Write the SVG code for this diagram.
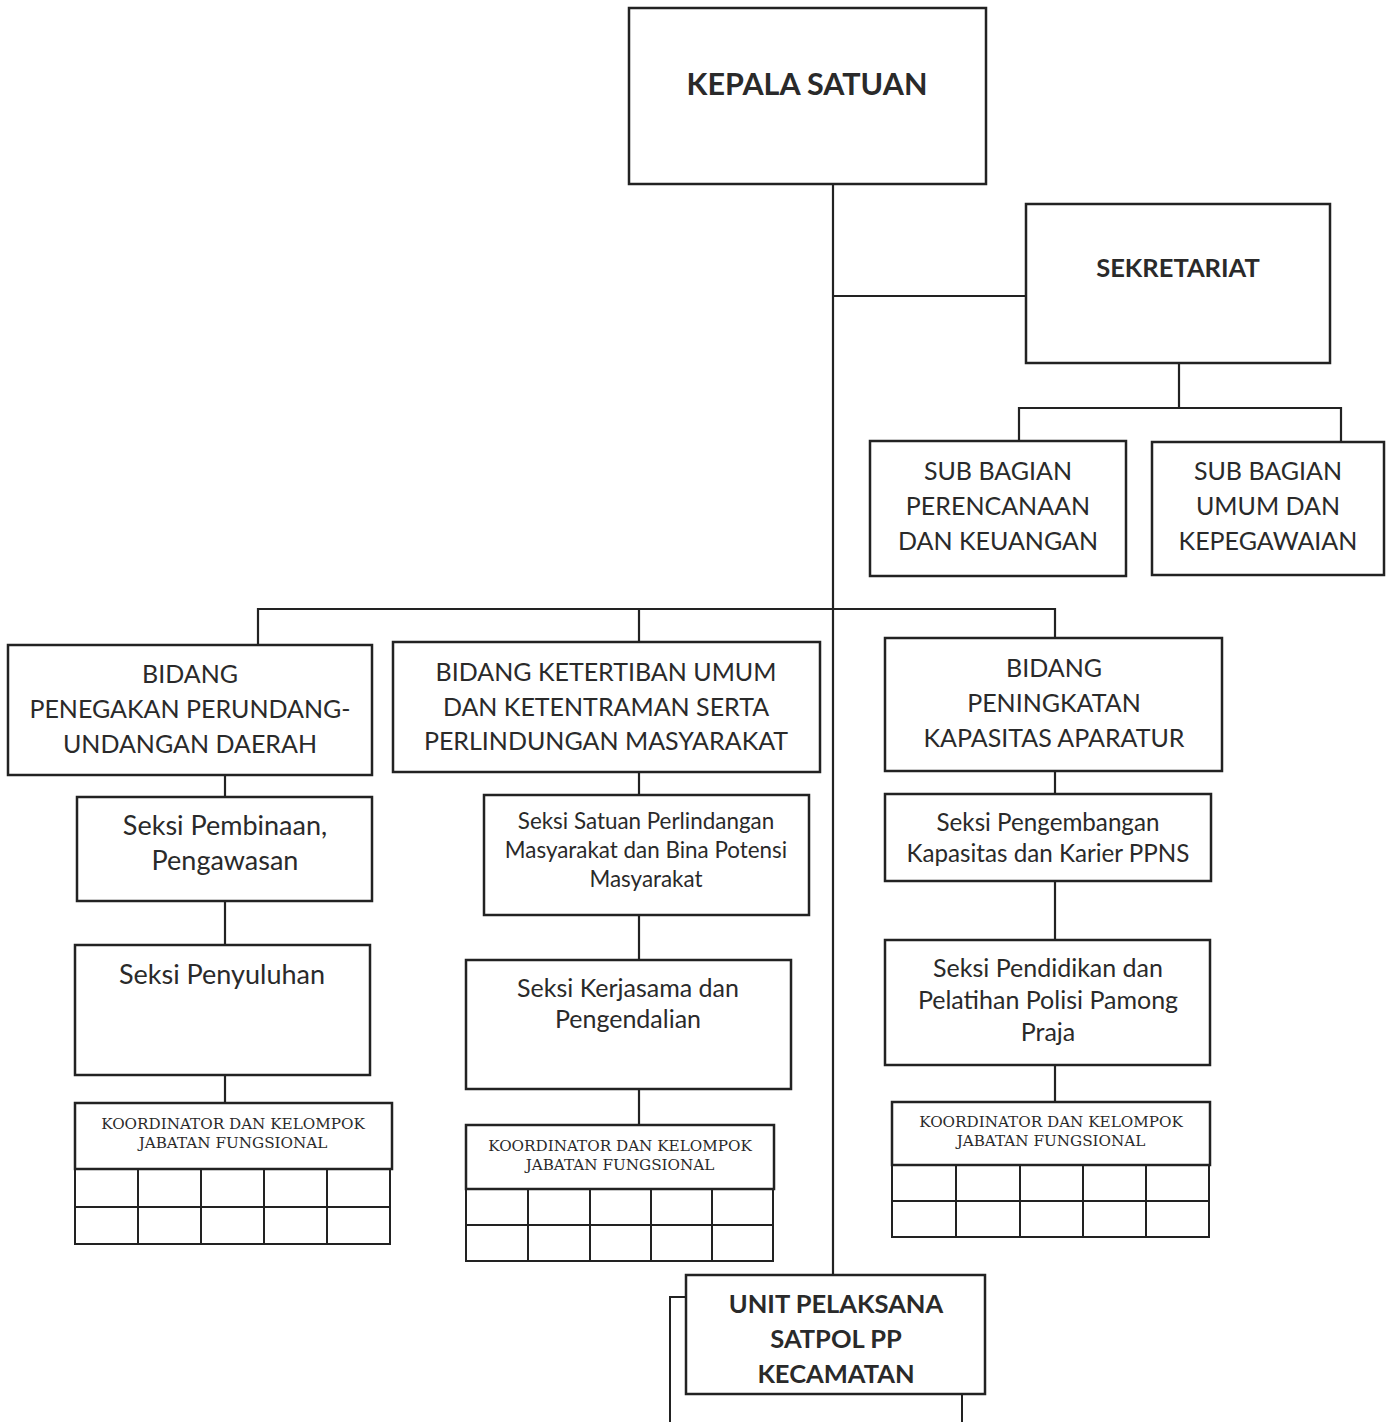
<svg xmlns="http://www.w3.org/2000/svg" width="1390" height="1422" viewBox="0 0 1390 1422">
<style>
  .box{fill:#fff;stroke:#222;stroke-width:2.5}
  .cell{fill:none;stroke:#222;stroke-width:2}
  .con line,.con path{stroke:#222;stroke-width:2.2;fill:none}
  text{font-family:Lato,"Open Sans","Liberation Sans",sans-serif;fill:#2a2a2a;text-anchor:middle}
  .b{font-weight:bold}
  .k{font-family:"DejaVu Serif","Liberation Serif",serif;font-size:15.2px}
</style>
<rect width="1390" height="1422" fill="#fff"/>
<g class="con">
  <line x1="833" y1="184" x2="833" y2="1275"/>
  <line x1="833" y1="296" x2="1026" y2="296"/>
  <line x1="1179" y1="363" x2="1179" y2="408"/>
  <path d="M1019 441 V408 H1341 V441"/>
  <path d="M258 645 V609 H1055 V638"/>
  <line x1="639" y1="609" x2="639" y2="642"/>
  <line x1="225" y1="775" x2="225" y2="797"/>
  <line x1="225" y1="901" x2="225" y2="945"/>
  <line x1="225" y1="1075" x2="225" y2="1103"/>
  <line x1="639" y1="772" x2="639" y2="795"/>
  <line x1="639" y1="915" x2="639" y2="960"/>
  <line x1="639" y1="1089" x2="639" y2="1125"/>
  <line x1="1055" y1="771" x2="1055" y2="794"/>
  <line x1="1055" y1="881" x2="1055" y2="940"/>
  <line x1="1055" y1="1065" x2="1055" y2="1102"/>
</g>
<g id="kepala">
  <rect class="box" x="629" y="8" width="357" height="176"/>
  <text class="b" x="807" y="95" font-size="30.5">KEPALA SATUAN</text>
</g>
<g id="sekretariat">
  <rect class="box" x="1026" y="204" width="304" height="159"/>
  <text class="b" x="1178" y="277" font-size="25.5">SEKRETARIAT</text>
</g>
<g id="subbag-perencanaan">
  <rect class="box" x="870" y="441" width="256" height="135"/>
  <text font-size="25"><tspan x="998" y="480">SUB BAGIAN</tspan><tspan x="998" y="515">PERENCANAAN</tspan><tspan x="998" y="550">DAN KEUANGAN</tspan></text>
</g>
<g id="subbag-umum">
  <rect class="box" x="1152" y="442" width="232" height="133"/>
  <text font-size="25"><tspan x="1268" y="480">SUB BAGIAN</tspan><tspan x="1268" y="515">UMUM DAN</tspan><tspan x="1268" y="550">KEPEGAWAIAN</tspan></text>
</g>
<g id="bidang-penegakan">
  <rect class="box" x="8" y="645" width="364" height="130"/>
  <text font-size="25"><tspan x="190" y="683">BIDANG</tspan><tspan x="190" y="718">PENEGAKAN PERUNDANG-</tspan><tspan x="190" y="753">UNDANGAN DAERAH</tspan></text>
</g>
<g id="bidang-ketertiban">
  <rect class="box" x="393" y="642" width="427" height="130"/>
  <text font-size="25"><tspan x="606" y="681">BIDANG KETERTIBAN UMUM</tspan><tspan x="606" y="716">DAN KETENTRAMAN SERTA</tspan><tspan x="606" y="750">PERLINDUNGAN MASYARAKAT</tspan></text>
</g>
<g id="bidang-peningkatan">
  <rect class="box" x="885" y="638" width="337" height="133"/>
  <text font-size="25"><tspan x="1054" y="677">BIDANG</tspan><tspan x="1054" y="712">PENINGKATAN</tspan><tspan x="1054" y="747">KAPASITAS APARATUR</tspan></text>
</g>
<g id="seksi-pembinaan">
  <rect class="box" x="77" y="797" width="295" height="104"/>
  <text font-size="27"><tspan x="225" y="835">Seksi Pembinaan,</tspan><tspan x="225" y="870">Pengawasan</tspan></text>
</g>
<g id="seksi-penyuluhan">
  <rect class="box" x="75" y="945" width="295" height="130"/>
  <text font-size="27" x="222" y="984">Seksi Penyuluhan</text>
</g>
<g id="koordinator-1">
  <rect class="box" x="75" y="1103" width="317" height="66"/>
  <text class="k"><tspan x="233" y="1129">KOORDINATOR DAN KELOMPOK</tspan><tspan x="233" y="1148">JABATAN FUNGSIONAL</tspan></text>
  <path class="cell" d="M75 1169 H390 V1244 H75 Z M75 1207 H390 M138 1169 V1244 M201 1169 V1244 M264 1169 V1244 M327 1169 V1244"/>
</g>
<g id="seksi-satuan">
  <rect class="box" x="484" y="795" width="325" height="120"/>
  <text font-size="22.4"><tspan x="646" y="829">Seksi Satuan Perlindangan</tspan><tspan x="646" y="858">Masyarakat dan Bina Potensi</tspan><tspan x="646" y="887">Masyarakat</tspan></text>
</g>
<g id="seksi-kerjasama">
  <rect class="box" x="466" y="960" width="325" height="129"/>
  <text font-size="25"><tspan x="628" y="997">Seksi Kerjasama dan</tspan><tspan x="628" y="1028">Pengendalian</tspan></text>
</g>
<g id="koordinator-2">
  <rect class="box" x="466" y="1125" width="308" height="64"/>
  <text class="k"><tspan x="620" y="1151">KOORDINATOR DAN KELOMPOK</tspan><tspan x="620" y="1170">JABATAN FUNGSIONAL</tspan></text>
  <path class="cell" d="M466 1189 H773 V1261 H466 Z M466 1225 H773 M528 1189 V1261 M590 1189 V1261 M651 1189 V1261 M712 1189 V1261"/>
</g>
<g id="seksi-pengembangan">
  <rect class="box" x="885" y="794" width="326" height="87"/>
  <text font-size="24.2"><tspan x="1048" y="831">Seksi Pengembangan</tspan><tspan x="1048" y="862">Kapasitas dan Karier PPNS</tspan></text>
</g>
<g id="seksi-pendidikan">
  <rect class="box" x="885" y="940" width="325" height="125"/>
  <text font-size="25"><tspan x="1048" y="977">Seksi Pendidikan dan</tspan><tspan x="1048" y="1009">Pelatihan Polisi Pamong</tspan><tspan x="1048" y="1041">Praja</tspan></text>
</g>
<g id="koordinator-3">
  <rect class="box" x="892" y="1102" width="318" height="63"/>
  <text class="k"><tspan x="1051" y="1127">KOORDINATOR DAN KELOMPOK</tspan><tspan x="1051" y="1146">JABATAN FUNGSIONAL</tspan></text>
  <path class="cell" d="M892 1165 H1209 V1237 H892 Z M892 1201 H1209 M956 1165 V1237 M1020 1165 V1237 M1083 1165 V1237 M1146 1165 V1237"/>
</g>
<g id="unit-pelaksana">
  <path class="cell" d="M686 1297 H670 V1422 M962 1394 V1422"/>
  <rect class="box" x="686" y="1275" width="299" height="119"/>
  <text class="b" font-size="25.5"><tspan x="836" y="1313">UNIT PELAKSANA</tspan><tspan x="836" y="1348">SATPOL PP</tspan><tspan x="836" y="1383">KECAMATAN</tspan></text>
</g>
</svg>
